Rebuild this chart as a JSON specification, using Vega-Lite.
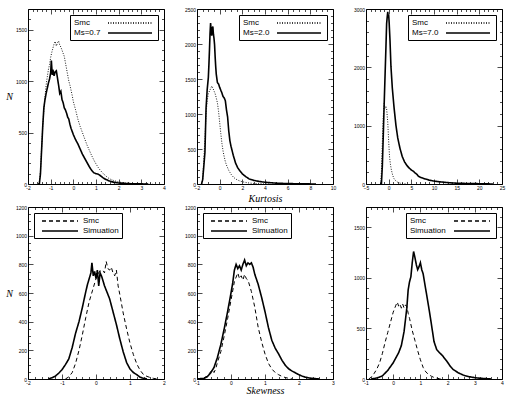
{
"$schema": "https://vega.github.io/schema/vega-lite/v6.json",
"background": "white",
"padding": {"left": 5, "top": 6, "right": 5, "bottom": 0},
"columns": 3,
"spacing": {"row": 23, "column": 33},
"bounds": "flush",
"resolve": {"scale": {"strokeDash": "independent"}, "legend": {"strokeDash": "independent"}},
"datasets": {
"p1": [
{"s":"Smc","x":-1.55,"y":0},{"s":"Smc","x":-1.5,"y":20},{"s":"Smc","x":-1.45,"y":120},{"s":"Smc","x":-1.4,"y":350},{"s":"Smc","x":-1.35,"y":560},{"s":"Smc","x":-1.3,"y":720},{"s":"Smc","x":-1.25,"y":850},{"s":"Smc","x":-1.2,"y":960},{"s":"Smc","x":-1.15,"y":1040},{"s":"Smc","x":-1.1,"y":1110},{"s":"Smc","x":-1.05,"y":1160},{"s":"Smc","x":-1.0,"y":1230},{"s":"Smc","x":-0.95,"y":1280},{"s":"Smc","x":-0.9,"y":1320},{"s":"Smc","x":-0.85,"y":1360},{"s":"Smc","x":-0.8,"y":1385},{"s":"Smc","x":-0.75,"y":1340},{"s":"Smc","x":-0.7,"y":1370},{"s":"Smc","x":-0.65,"y":1390},{"s":"Smc","x":-0.6,"y":1350},{"s":"Smc","x":-0.55,"y":1330},{"s":"Smc","x":-0.5,"y":1300},{"s":"Smc","x":-0.45,"y":1270},{"s":"Smc","x":-0.4,"y":1240},{"s":"Smc","x":-0.35,"y":1180},{"s":"Smc","x":-0.3,"y":1120},{"s":"Smc","x":-0.25,"y":1060},{"s":"Smc","x":-0.2,"y":1000},{"s":"Smc","x":-0.15,"y":960},{"s":"Smc","x":-0.1,"y":910},{"s":"Smc","x":-0.05,"y":860},{"s":"Smc","x":0.0,"y":800},{"s":"Smc","x":0.1,"y":720},{"s":"Smc","x":0.2,"y":630},{"s":"Smc","x":0.3,"y":560},{"s":"Smc","x":0.4,"y":500},{"s":"Smc","x":0.5,"y":440},{"s":"Smc","x":0.6,"y":380},{"s":"Smc","x":0.7,"y":330},{"s":"Smc","x":0.8,"y":280},{"s":"Smc","x":0.9,"y":235},{"s":"Smc","x":1.0,"y":195},{"s":"Smc","x":1.1,"y":160},{"s":"Smc","x":1.2,"y":130},{"s":"Smc","x":1.3,"y":105},{"s":"Smc","x":1.4,"y":85},{"s":"Smc","x":1.5,"y":65},{"s":"Smc","x":1.6,"y":50},{"s":"Smc","x":1.8,"y":32},{"s":"Smc","x":2.0,"y":20},{"s":"Smc","x":2.2,"y":12},{"s":"Smc","x":2.5,"y":6},{"s":"Smc","x":2.8,"y":3},{"s":"Smc","x":3.1,"y":1},{"s":"Smc","x":3.5,"y":0},
{"s":"Ms=0.7","x":-1.5,"y":0},{"s":"Ms=0.7","x":-1.45,"y":100},{"s":"Ms=0.7","x":-1.4,"y":330},{"s":"Ms=0.7","x":-1.35,"y":560},{"s":"Ms=0.7","x":-1.3,"y":740},{"s":"Ms=0.7","x":-1.25,"y":820},{"s":"Ms=0.7","x":-1.2,"y":880},{"s":"Ms=0.7","x":-1.15,"y":930},{"s":"Ms=0.7","x":-1.1,"y":980},{"s":"Ms=0.7","x":-1.05,"y":1020},{"s":"Ms=0.7","x":-1.0,"y":1080},{"s":"Ms=0.7","x":-0.97,"y":1200},{"s":"Ms=0.7","x":-0.93,"y":1060},{"s":"Ms=0.7","x":-0.9,"y":1110},{"s":"Ms=0.7","x":-0.85,"y":1050},{"s":"Ms=0.7","x":-0.8,"y":1090},{"s":"Ms=0.7","x":-0.75,"y":1100},{"s":"Ms=0.7","x":-0.7,"y":1030},{"s":"Ms=0.7","x":-0.65,"y":960},{"s":"Ms=0.7","x":-0.6,"y":880},{"s":"Ms=0.7","x":-0.55,"y":900},{"s":"Ms=0.7","x":-0.5,"y":820},{"s":"Ms=0.7","x":-0.45,"y":790},{"s":"Ms=0.7","x":-0.4,"y":740},{"s":"Ms=0.7","x":-0.35,"y":720},{"s":"Ms=0.7","x":-0.3,"y":690},{"s":"Ms=0.7","x":-0.25,"y":650},{"s":"Ms=0.7","x":-0.2,"y":630},{"s":"Ms=0.7","x":-0.15,"y":580},{"s":"Ms=0.7","x":-0.1,"y":540},{"s":"Ms=0.7","x":-0.05,"y":510},{"s":"Ms=0.7","x":0.0,"y":480},{"s":"Ms=0.7","x":0.1,"y":430},{"s":"Ms=0.7","x":0.2,"y":390},{"s":"Ms=0.7","x":0.3,"y":340},{"s":"Ms=0.7","x":0.4,"y":290},{"s":"Ms=0.7","x":0.5,"y":250},{"s":"Ms=0.7","x":0.6,"y":210},{"s":"Ms=0.7","x":0.7,"y":170},{"s":"Ms=0.7","x":0.8,"y":135},{"s":"Ms=0.7","x":0.9,"y":110},{"s":"Ms=0.7","x":1.0,"y":100},{"s":"Ms=0.7","x":1.1,"y":95},{"s":"Ms=0.7","x":1.2,"y":80},{"s":"Ms=0.7","x":1.3,"y":62},{"s":"Ms=0.7","x":1.4,"y":48},{"s":"Ms=0.7","x":1.5,"y":38},{"s":"Ms=0.7","x":1.6,"y":28},{"s":"Ms=0.7","x":1.8,"y":16},{"s":"Ms=0.7","x":2.0,"y":10},{"s":"Ms=0.7","x":2.3,"y":5},{"s":"Ms=0.7","x":2.6,"y":2},{"s":"Ms=0.7","x":3.0,"y":1},{"s":"Ms=0.7","x":3.3,"y":0}
],
"p2": [
{"s":"Smc","x":-1.6,"y":0},{"s":"Smc","x":-1.5,"y":60},{"s":"Smc","x":-1.4,"y":350},{"s":"Smc","x":-1.3,"y":650},{"s":"Smc","x":-1.2,"y":1000},{"s":"Smc","x":-1.1,"y":1190},{"s":"Smc","x":-1.0,"y":1290},{"s":"Smc","x":-0.9,"y":1330},{"s":"Smc","x":-0.8,"y":1360},{"s":"Smc","x":-0.7,"y":1400},{"s":"Smc","x":-0.6,"y":1370},{"s":"Smc","x":-0.5,"y":1330},{"s":"Smc","x":-0.4,"y":1290},{"s":"Smc","x":-0.3,"y":1230},{"s":"Smc","x":-0.2,"y":1160},{"s":"Smc","x":-0.1,"y":1040},{"s":"Smc","x":0.0,"y":880},{"s":"Smc","x":0.1,"y":720},{"s":"Smc","x":0.2,"y":580},{"s":"Smc","x":0.3,"y":470},{"s":"Smc","x":0.4,"y":390},{"s":"Smc","x":0.5,"y":320},{"s":"Smc","x":0.6,"y":270},{"s":"Smc","x":0.8,"y":195},{"s":"Smc","x":1.0,"y":140},{"s":"Smc","x":1.2,"y":100},{"s":"Smc","x":1.4,"y":72},{"s":"Smc","x":1.7,"y":48},{"s":"Smc","x":2.0,"y":32},{"s":"Smc","x":2.5,"y":16},{"s":"Smc","x":3.0,"y":8},{"s":"Smc","x":3.5,"y":4},{"s":"Smc","x":4.0,"y":1},{"s":"Smc","x":4.5,"y":0},
{"s":"Ms=2.0","x":-1.6,"y":0},{"s":"Ms=2.0","x":-1.5,"y":60},{"s":"Ms=2.0","x":-1.4,"y":250},{"s":"Ms=2.0","x":-1.3,"y":450},{"s":"Ms=2.0","x":-1.2,"y":1090},{"s":"Ms=2.0","x":-1.1,"y":1350},{"s":"Ms=2.0","x":-1.0,"y":1520},{"s":"Ms=2.0","x":-0.95,"y":1700},{"s":"Ms=2.0","x":-0.9,"y":1910},{"s":"Ms=2.0","x":-0.85,"y":2150},{"s":"Ms=2.0","x":-0.8,"y":2300},{"s":"Ms=2.0","x":-0.75,"y":2180},{"s":"Ms=2.0","x":-0.7,"y":2120},{"s":"Ms=2.0","x":-0.65,"y":2230},{"s":"Ms=2.0","x":-0.6,"y":2250},{"s":"Ms=2.0","x":-0.55,"y":2140},{"s":"Ms=2.0","x":-0.5,"y":2080},{"s":"Ms=2.0","x":-0.45,"y":1990},{"s":"Ms=2.0","x":-0.4,"y":1820},{"s":"Ms=2.0","x":-0.35,"y":1680},{"s":"Ms=2.0","x":-0.3,"y":1570},{"s":"Ms=2.0","x":-0.2,"y":1450},{"s":"Ms=2.0","x":-0.1,"y":1430},{"s":"Ms=2.0","x":0.0,"y":1380},{"s":"Ms=2.0","x":0.1,"y":1340},{"s":"Ms=2.0","x":0.2,"y":1300},{"s":"Ms=2.0","x":0.3,"y":1250},{"s":"Ms=2.0","x":0.4,"y":1230},{"s":"Ms=2.0","x":0.5,"y":1190},{"s":"Ms=2.0","x":0.6,"y":1060},{"s":"Ms=2.0","x":0.7,"y":960},{"s":"Ms=2.0","x":0.8,"y":760},{"s":"Ms=2.0","x":0.9,"y":620},{"s":"Ms=2.0","x":1.0,"y":540},{"s":"Ms=2.0","x":1.2,"y":410},{"s":"Ms=2.0","x":1.4,"y":300},{"s":"Ms=2.0","x":1.6,"y":230},{"s":"Ms=2.0","x":1.8,"y":185},{"s":"Ms=2.0","x":2.0,"y":145},{"s":"Ms=2.0","x":2.3,"y":105},{"s":"Ms=2.0","x":2.6,"y":73},{"s":"Ms=2.0","x":3.0,"y":52},{"s":"Ms=2.0","x":3.5,"y":36},{"s":"Ms=2.0","x":4.0,"y":25},{"s":"Ms=2.0","x":4.5,"y":18},{"s":"Ms=2.0","x":5.0,"y":12},{"s":"Ms=2.0","x":6.0,"y":6},{"s":"Ms=2.0","x":7.0,"y":3},{"s":"Ms=2.0","x":8.0,"y":1},{"s":"Ms=2.0","x":8.5,"y":0}
],
"p3": [
{"s":"Smc","x":-1.8,"y":0},{"s":"Smc","x":-1.6,"y":200},{"s":"Smc","x":-1.4,"y":700},{"s":"Smc","x":-1.2,"y":1150},{"s":"Smc","x":-1.0,"y":1380},{"s":"Smc","x":-0.8,"y":1300},{"s":"Smc","x":-0.6,"y":1330},{"s":"Smc","x":-0.45,"y":1290},{"s":"Smc","x":-0.3,"y":1150},{"s":"Smc","x":-0.2,"y":1060},{"s":"Smc","x":0.0,"y":730},{"s":"Smc","x":0.2,"y":460},{"s":"Smc","x":0.4,"y":330},{"s":"Smc","x":0.6,"y":240},{"s":"Smc","x":0.9,"y":145},{"s":"Smc","x":1.2,"y":90},{"s":"Smc","x":1.5,"y":60},{"s":"Smc","x":2.0,"y":30},{"s":"Smc","x":2.5,"y":15},{"s":"Smc","x":3.0,"y":7},{"s":"Smc","x":3.5,"y":3},{"s":"Smc","x":4.0,"y":0},
{"s":"Ms=7.0","x":-1.6,"y":0},{"s":"Ms=7.0","x":-1.4,"y":300},{"s":"Ms=7.0","x":-1.2,"y":800},{"s":"Ms=7.0","x":-1.0,"y":1350},{"s":"Ms=7.0","x":-0.8,"y":1850},{"s":"Ms=7.0","x":-0.6,"y":2350},{"s":"Ms=7.0","x":-0.45,"y":2750},{"s":"Ms=7.0","x":-0.3,"y":2880},{"s":"Ms=7.0","x":-0.2,"y":2950},{"s":"Ms=7.0","x":-0.1,"y":2870},{"s":"Ms=7.0","x":0.0,"y":2900},{"s":"Ms=7.0","x":0.1,"y":2780},{"s":"Ms=7.0","x":0.3,"y":2450},{"s":"Ms=7.0","x":0.5,"y":2020},{"s":"Ms=7.0","x":0.8,"y":1650},{"s":"Ms=7.0","x":1.2,"y":1300},{"s":"Ms=7.0","x":1.6,"y":1010},{"s":"Ms=7.0","x":2.0,"y":790},{"s":"Ms=7.0","x":2.5,"y":610},{"s":"Ms=7.0","x":3.0,"y":470},{"s":"Ms=7.0","x":3.5,"y":380},{"s":"Ms=7.0","x":4.0,"y":320},{"s":"Ms=7.0","x":4.5,"y":275},{"s":"Ms=7.0","x":5.0,"y":240},{"s":"Ms=7.0","x":5.5,"y":215},{"s":"Ms=7.0","x":5.8,"y":190},{"s":"Ms=7.0","x":6.0,"y":180},{"s":"Ms=7.0","x":6.3,"y":160},{"s":"Ms=7.0","x":6.6,"y":130},{"s":"Ms=7.0","x":7.0,"y":115},{"s":"Ms=7.0","x":8.0,"y":88},{"s":"Ms=7.0","x":9.0,"y":65},{"s":"Ms=7.0","x":10.0,"y":50},{"s":"Ms=7.0","x":11.0,"y":40},{"s":"Ms=7.0","x":12.0,"y":32},{"s":"Ms=7.0","x":13.0,"y":24},{"s":"Ms=7.0","x":14.0,"y":18},{"s":"Ms=7.0","x":15.0,"y":14},{"s":"Ms=7.0","x":16.0,"y":12},{"s":"Ms=7.0","x":17.0,"y":9},{"s":"Ms=7.0","x":18.0,"y":8},{"s":"Ms=7.0","x":20.0,"y":5},{"s":"Ms=7.0","x":22.0,"y":2},{"s":"Ms=7.0","x":23.0,"y":0}
],
"p4": [
{"s":"Smc","x":-0.9,"y":0},{"s":"Smc","x":-0.8,"y":15},{"s":"Smc","x":-0.7,"y":45},{"s":"Smc","x":-0.6,"y":110},{"s":"Smc","x":-0.5,"y":200},{"s":"Smc","x":-0.4,"y":310},{"s":"Smc","x":-0.3,"y":430},{"s":"Smc","x":-0.2,"y":540},{"s":"Smc","x":-0.1,"y":620},{"s":"Smc","x":0.0,"y":700},{"s":"Smc","x":0.1,"y":750},{"s":"Smc","x":0.2,"y":760},{"s":"Smc","x":0.25,"y":740},{"s":"Smc","x":0.3,"y":820},{"s":"Smc","x":0.35,"y":770},{"s":"Smc","x":0.4,"y":760},{"s":"Smc","x":0.45,"y":780},{"s":"Smc","x":0.5,"y":740},{"s":"Smc","x":0.55,"y":720},{"s":"Smc","x":0.6,"y":760},{"s":"Smc","x":0.65,"y":650},{"s":"Smc","x":0.7,"y":590},{"s":"Smc","x":0.8,"y":460},{"s":"Smc","x":0.9,"y":350},{"s":"Smc","x":1.0,"y":250},{"s":"Smc","x":1.1,"y":170},{"s":"Smc","x":1.2,"y":105},{"s":"Smc","x":1.3,"y":60},{"s":"Smc","x":1.4,"y":30},{"s":"Smc","x":1.5,"y":18},{"s":"Smc","x":1.6,"y":10},{"s":"Smc","x":1.7,"y":4},{"s":"Smc","x":1.8,"y":0},
{"s":"Simuation","x":-1.4,"y":0},{"s":"Simuation","x":-1.3,"y":8},{"s":"Simuation","x":-1.2,"y":19},{"s":"Simuation","x":-1.1,"y":40},{"s":"Simuation","x":-1.0,"y":65},{"s":"Simuation","x":-0.9,"y":100},{"s":"Simuation","x":-0.8,"y":140},{"s":"Simuation","x":-0.7,"y":220},{"s":"Simuation","x":-0.6,"y":320},{"s":"Simuation","x":-0.5,"y":400},{"s":"Simuation","x":-0.4,"y":500},{"s":"Simuation","x":-0.3,"y":610},{"s":"Simuation","x":-0.25,"y":660},{"s":"Simuation","x":-0.2,"y":700},{"s":"Simuation","x":-0.15,"y":740},{"s":"Simuation","x":-0.12,"y":810},{"s":"Simuation","x":-0.08,"y":720},{"s":"Simuation","x":-0.04,"y":750},{"s":"Simuation","x":0.0,"y":700},{"s":"Simuation","x":0.04,"y":760},{"s":"Simuation","x":0.08,"y":650},{"s":"Simuation","x":0.12,"y":740},{"s":"Simuation","x":0.16,"y":720},{"s":"Simuation","x":0.2,"y":690},{"s":"Simuation","x":0.25,"y":650},{"s":"Simuation","x":0.3,"y":620},{"s":"Simuation","x":0.35,"y":590},{"s":"Simuation","x":0.4,"y":560},{"s":"Simuation","x":0.5,"y":470},{"s":"Simuation","x":0.6,"y":380},{"s":"Simuation","x":0.7,"y":280},{"s":"Simuation","x":0.8,"y":190},{"s":"Simuation","x":0.9,"y":115},{"s":"Simuation","x":1.0,"y":70},{"s":"Simuation","x":1.1,"y":45},{"s":"Simuation","x":1.2,"y":30},{"s":"Simuation","x":1.3,"y":12},{"s":"Simuation","x":1.4,"y":5},{"s":"Simuation","x":1.5,"y":0}
],
"p5": [
{"s":"Smc","x":-1.0,"y":0},{"s":"Smc","x":-0.8,"y":8},{"s":"Smc","x":-0.7,"y":20},{"s":"Smc","x":-0.6,"y":50},{"s":"Smc","x":-0.55,"y":65},{"s":"Smc","x":-0.5,"y":45},{"s":"Smc","x":-0.45,"y":70},{"s":"Smc","x":-0.4,"y":115},{"s":"Smc","x":-0.3,"y":190},{"s":"Smc","x":-0.2,"y":300},{"s":"Smc","x":-0.1,"y":420},{"s":"Smc","x":0.0,"y":550},{"s":"Smc","x":0.1,"y":680},{"s":"Smc","x":0.2,"y":740},{"s":"Smc","x":0.25,"y":700},{"s":"Smc","x":0.3,"y":720},{"s":"Smc","x":0.35,"y":690},{"s":"Smc","x":0.4,"y":730},{"s":"Smc","x":0.45,"y":700},{"s":"Smc","x":0.5,"y":690},{"s":"Smc","x":0.6,"y":610},{"s":"Smc","x":0.7,"y":500},{"s":"Smc","x":0.8,"y":360},{"s":"Smc","x":0.9,"y":260},{"s":"Smc","x":1.0,"y":175},{"s":"Smc","x":1.1,"y":110},{"s":"Smc","x":1.2,"y":70},{"s":"Smc","x":1.3,"y":45},{"s":"Smc","x":1.4,"y":30},{"s":"Smc","x":1.5,"y":18},{"s":"Smc","x":1.6,"y":10},{"s":"Smc","x":1.7,"y":5},{"s":"Smc","x":1.8,"y":0},
{"s":"Simuation","x":-1.0,"y":0},{"s":"Simuation","x":-0.8,"y":4},{"s":"Simuation","x":-0.7,"y":15},{"s":"Simuation","x":-0.6,"y":42},{"s":"Simuation","x":-0.5,"y":80},{"s":"Simuation","x":-0.4,"y":150},{"s":"Simuation","x":-0.3,"y":240},{"s":"Simuation","x":-0.2,"y":350},{"s":"Simuation","x":-0.1,"y":470},{"s":"Simuation","x":0.0,"y":600},{"s":"Simuation","x":0.05,"y":670},{"s":"Simuation","x":0.1,"y":760},{"s":"Simuation","x":0.15,"y":800},{"s":"Simuation","x":0.2,"y":770},{"s":"Simuation","x":0.25,"y":790},{"s":"Simuation","x":0.3,"y":760},{"s":"Simuation","x":0.35,"y":800},{"s":"Simuation","x":0.4,"y":830},{"s":"Simuation","x":0.45,"y":790},{"s":"Simuation","x":0.5,"y":810},{"s":"Simuation","x":0.55,"y":800},{"s":"Simuation","x":0.6,"y":810},{"s":"Simuation","x":0.65,"y":780},{"s":"Simuation","x":0.7,"y":730},{"s":"Simuation","x":0.8,"y":660},{"s":"Simuation","x":0.9,"y":570},{"s":"Simuation","x":1.0,"y":470},{"s":"Simuation","x":1.1,"y":360},{"s":"Simuation","x":1.2,"y":270},{"s":"Simuation","x":1.3,"y":215},{"s":"Simuation","x":1.4,"y":175},{"s":"Simuation","x":1.5,"y":130},{"s":"Simuation","x":1.6,"y":95},{"s":"Simuation","x":1.7,"y":70},{"s":"Simuation","x":1.8,"y":55},{"s":"Simuation","x":1.9,"y":42},{"s":"Simuation","x":2.0,"y":30},{"s":"Simuation","x":2.1,"y":19},{"s":"Simuation","x":2.2,"y":12},{"s":"Simuation","x":2.3,"y":7},{"s":"Simuation","x":2.5,"y":2},{"s":"Simuation","x":2.6,"y":0}
],
"p6": [
{"s":"Smc","x":-0.9,"y":0},{"s":"Smc","x":-0.8,"y":20},{"s":"Smc","x":-0.7,"y":55},{"s":"Smc","x":-0.6,"y":100},{"s":"Smc","x":-0.5,"y":160},{"s":"Smc","x":-0.4,"y":250},{"s":"Smc","x":-0.3,"y":360},{"s":"Smc","x":-0.2,"y":460},{"s":"Smc","x":-0.1,"y":560},{"s":"Smc","x":0.0,"y":660},{"s":"Smc","x":0.1,"y":730},{"s":"Smc","x":0.15,"y":760},{"s":"Smc","x":0.2,"y":720},{"s":"Smc","x":0.25,"y":740},{"s":"Smc","x":0.3,"y":700},{"s":"Smc","x":0.35,"y":740},{"s":"Smc","x":0.4,"y":700},{"s":"Smc","x":0.45,"y":730},{"s":"Smc","x":0.5,"y":720},{"s":"Smc","x":0.55,"y":650},{"s":"Smc","x":0.6,"y":600},{"s":"Smc","x":0.7,"y":480},{"s":"Smc","x":0.8,"y":380},{"s":"Smc","x":0.9,"y":280},{"s":"Smc","x":1.0,"y":190},{"s":"Smc","x":1.1,"y":115},{"s":"Smc","x":1.2,"y":70},{"s":"Smc","x":1.3,"y":45},{"s":"Smc","x":1.4,"y":28},{"s":"Smc","x":1.5,"y":15},{"s":"Smc","x":1.6,"y":8},{"s":"Smc","x":1.7,"y":3},{"s":"Smc","x":1.8,"y":0},
{"s":"Simuation","x":-0.8,"y":0},{"s":"Simuation","x":-0.6,"y":10},{"s":"Simuation","x":-0.4,"y":30},{"s":"Simuation","x":-0.2,"y":85},{"s":"Simuation","x":0.0,"y":160},{"s":"Simuation","x":0.1,"y":210},{"s":"Simuation","x":0.2,"y":260},{"s":"Simuation","x":0.3,"y":330},{"s":"Simuation","x":0.4,"y":470},{"s":"Simuation","x":0.5,"y":700},{"s":"Simuation","x":0.55,"y":880},{"s":"Simuation","x":0.6,"y":960},{"s":"Simuation","x":0.65,"y":1010},{"s":"Simuation","x":0.7,"y":1150},{"s":"Simuation","x":0.75,"y":1260},{"s":"Simuation","x":0.8,"y":1200},{"s":"Simuation","x":0.85,"y":1130},{"s":"Simuation","x":0.9,"y":1080},{"s":"Simuation","x":0.95,"y":1110},{"s":"Simuation","x":1.0,"y":1150},{"s":"Simuation","x":1.05,"y":1080},{"s":"Simuation","x":1.1,"y":1040},{"s":"Simuation","x":1.15,"y":960},{"s":"Simuation","x":1.2,"y":880},{"s":"Simuation","x":1.3,"y":720},{"s":"Simuation","x":1.4,"y":550},{"s":"Simuation","x":1.5,"y":370},{"s":"Simuation","x":1.6,"y":290},{"s":"Simuation","x":1.7,"y":260},{"s":"Simuation","x":1.8,"y":235},{"s":"Simuation","x":1.9,"y":200},{"s":"Simuation","x":2.0,"y":165},{"s":"Simuation","x":2.1,"y":125},{"s":"Simuation","x":2.2,"y":95},{"s":"Simuation","x":2.4,"y":60},{"s":"Simuation","x":2.6,"y":36},{"s":"Simuation","x":2.8,"y":22},{"s":"Simuation","x":3.0,"y":13},{"s":"Simuation","x":3.2,"y":7},{"s":"Simuation","x":3.5,"y":2},{"s":"Simuation","x":3.6,"y":0}
]
},
"concat": [
{
"width": 136, "height": 175,
"data": {"name": "p1"},
"layer": [
{"transform": [{"filter": "datum.s == 'Smc'"}],
 "mark": {"type": "line", "strokeWidth": 0.9},
 "encoding": {
  "x": {"field": "x", "type": "quantitative", "scale": {"domain": [-2, 4], "nice": false, "zero": false},
        "axis": {"orient": "bottom", "title": null, "labelOverlap": false, "values": [-2,-1.8,-1.6,-1.4,-1.2,-1,-0.8,-0.6,-0.4,-0.2,0,0.2,0.4,0.6,0.8,1,1.2,1.4,1.6,1.8,2,2.2,2.4,2.6,2.8,3,3.2,3.4,3.6,3.8,4],
                 "labelExpr": "abs(datum.value - round(datum.value)) < 0.001 ? '' + round(datum.value) : ''",
                 "tickSize": {"condition": {"test": "abs(datum.value - round(datum.value)) < 0.001", "value": -5}, "value": -2.5}}},
  "y": {"field": "y", "type": "quantitative", "scale": {"domain": [0, 1700], "nice": false},
        "axis": {"orient": "left", "title": "N", "titleAngle": 0, "titleAlign": "right", "titleBaseline": "middle", "titlePadding": 3, "titleFontSize": 10, "format": "d", "labelOverlap": false,
                 "values": [0,100,200,300,400,500,600,700,800,900,1000,1100,1200,1300,1400,1500,1600,1700],
                 "labelExpr": "datum.value % 500 == 0 ? datum.label : ''",
                 "tickSize": {"condition": {"test": "datum.value % 500 == 0", "value": -5}, "value": -2.5}}},
  "strokeDash": {"field": "s", "type": "nominal", "scale": {"domain": ["Smc", "Ms=0.7"], "range": [[1, 1.5], [1, 0]]},
    "legend": {"title": null, "orient": "top-right", "symbolType": "M7.5,0H18.5", "symbolSize": 64, "labelAlign": "left", "labelOffset": -9,
               "encode": {"symbols": {"strokeWidth": {"condition": {"test": "datum.value == 'Smc'", "value": 0.9}, "value": 1.5}, "stroke": {"value": "black"}}}}}
 }},
{"transform": [{"filter": "datum.s != 'Smc'"}],
 "mark": {"type": "line", "strokeWidth": 1.6},
 "encoding": {
  "x": {"field": "x", "type": "quantitative", "scale": {"domain": [-2, 4], "nice": false, "zero": false},
        "axis": {"orient": "top", "title": null, "labels": false, "values": [-2,-1.8,-1.6,-1.4,-1.2,-1,-0.8,-0.6,-0.4,-0.2,0,0.2,0.4,0.6,0.8,1,1.2,1.4,1.6,1.8,2,2.2,2.4,2.6,2.8,3,3.2,3.4,3.6,3.8,4],
                 "tickSize": {"condition": {"test": "abs(datum.value - round(datum.value)) < 0.001", "value": -5}, "value": -2.5}}},
  "y": {"field": "y", "type": "quantitative", "scale": {"domain": [0, 1700], "nice": false},
        "axis": {"orient": "right", "title": null, "labels": false,
                 "values": [0,100,200,300,400,500,600,700,800,900,1000,1100,1200,1300,1400,1500,1600,1700],
                 "tickSize": {"condition": {"test": "datum.value % 500 == 0", "value": -5}, "value": -2.5}}},
  "strokeDash": {"field": "s", "type": "nominal", "scale": {"domain": ["Smc", "Ms=0.7"], "range": [[1, 1.5], [1, 0]]}}
 }}
],
"resolve": {"axis": {"x": "independent", "y": "independent"}}
},
{
"width": 136, "height": 175,
"data": {"name": "p2"},
"layer": [
{"transform": [{"filter": "datum.s == 'Smc'"}],
 "mark": {"type": "line", "strokeWidth": 0.9},
 "encoding": {
  "x": {"field": "x", "type": "quantitative", "scale": {"domain": [-2, 10], "nice": false, "zero": false},
        "axis": {"orient": "bottom", "title": "Kurtosis", "titleY": 9, "titleBaseline": "top", "format": "d", "labelOverlap": false, "values": [-2,-1.5,-1,-0.5,0,0.5,1,1.5,2,2.5,3,3.5,4,4.5,5,5.5,6,6.5,7,7.5,8,8.5,9,9.5,10],
                 "labelExpr": "datum.value % 2 == 0 ? datum.label : ''",
                 "tickSize": {"condition": {"test": "datum.value % 2 == 0", "value": -5}, "value": -2.5}}},
  "y": {"field": "y", "type": "quantitative", "scale": {"domain": [0, 2500], "nice": false},
        "axis": {"orient": "left", "title": null, "format": "d", "labelOverlap": false,
                 "values": [0,100,200,300,400,500,600,700,800,900,1000,1100,1200,1300,1400,1500,1600,1700,1800,1900,2000,2100,2200,2300,2400,2500],
                 "labelExpr": "datum.value % 500 == 0 ? datum.label : ''",
                 "tickSize": {"condition": {"test": "datum.value % 500 == 0", "value": -5}, "value": -2.5}}},
  "strokeDash": {"field": "s", "type": "nominal", "scale": {"domain": ["Smc", "Ms=2.0"], "range": [[1, 1.5], [1, 0]]},
    "legend": {"title": null, "orient": "top-right", "symbolType": "M7.5,0H18.5", "symbolSize": 64, "labelAlign": "left", "labelOffset": -9,
               "encode": {"symbols": {"strokeWidth": {"condition": {"test": "datum.value == 'Smc'", "value": 0.9}, "value": 1.5}, "stroke": {"value": "black"}}}}}
 }},
{"transform": [{"filter": "datum.s != 'Smc'"}],
 "mark": {"type": "line", "strokeWidth": 1.6},
 "encoding": {
  "x": {"field": "x", "type": "quantitative", "scale": {"domain": [-2, 10], "nice": false, "zero": false},
        "axis": {"orient": "top", "title": null, "labels": false, "values": [-2,-1.5,-1,-0.5,0,0.5,1,1.5,2,2.5,3,3.5,4,4.5,5,5.5,6,6.5,7,7.5,8,8.5,9,9.5,10],
                 "tickSize": {"condition": {"test": "datum.value % 2 == 0", "value": -5}, "value": -2.5}}},
  "y": {"field": "y", "type": "quantitative", "scale": {"domain": [0, 2500], "nice": false},
        "axis": {"orient": "right", "title": null, "labels": false,
                 "values": [0,100,200,300,400,500,600,700,800,900,1000,1100,1200,1300,1400,1500,1600,1700,1800,1900,2000,2100,2200,2300,2400,2500],
                 "tickSize": {"condition": {"test": "datum.value % 500 == 0", "value": -5}, "value": -2.5}}},
  "strokeDash": {"field": "s", "type": "nominal", "scale": {"domain": ["Smc", "Ms=2.0"], "range": [[1, 1.5], [1, 0]]}}
 }}
],
"resolve": {"axis": {"x": "independent", "y": "independent"}}
},
{
"width": 136, "height": 175,
"data": {"name": "p3"},
"layer": [
{"transform": [{"filter": "datum.s == 'Smc'"}],
 "mark": {"type": "line", "strokeWidth": 0.9},
 "encoding": {
  "x": {"field": "x", "type": "quantitative", "scale": {"domain": [-5, 25], "nice": false, "zero": false},
        "axis": {"orient": "bottom", "title": null, "format": "d", "labelOverlap": false, "values": [-5,-4,-3,-2,-1,0,1,2,3,4,5,6,7,8,9,10,11,12,13,14,15,16,17,18,19,20,21,22,23,24,25],
                 "labelExpr": "datum.value % 5 == 0 ? datum.label : ''",
                 "tickSize": {"condition": {"test": "datum.value % 5 == 0", "value": -5}, "value": -2.5}}},
  "y": {"field": "y", "type": "quantitative", "scale": {"domain": [0, 3000], "nice": false},
        "axis": {"orient": "left", "title": null, "format": "d", "labelOverlap": false,
                 "values": [0,200,400,600,800,1000,1200,1400,1600,1800,2000,2200,2400,2600,2800,3000],
                 "labelExpr": "datum.value % 1000 == 0 ? datum.label : ''",
                 "tickSize": {"condition": {"test": "datum.value % 1000 == 0", "value": -5}, "value": -2.5}}},
  "strokeDash": {"field": "s", "type": "nominal", "scale": {"domain": ["Smc", "Ms=7.0"], "range": [[1, 1.5], [1, 0]]},
    "legend": {"title": null, "orient": "top-right", "symbolType": "M7.5,0H18.5", "symbolSize": 64, "labelAlign": "left", "labelOffset": -9,
               "encode": {"symbols": {"strokeWidth": {"condition": {"test": "datum.value == 'Smc'", "value": 0.9}, "value": 1.5}, "stroke": {"value": "black"}}}}}
 }},
{"transform": [{"filter": "datum.s != 'Smc'"}],
 "mark": {"type": "line", "strokeWidth": 1.6},
 "encoding": {
  "x": {"field": "x", "type": "quantitative", "scale": {"domain": [-5, 25], "nice": false, "zero": false},
        "axis": {"orient": "top", "title": null, "labels": false, "values": [-5,-4,-3,-2,-1,0,1,2,3,4,5,6,7,8,9,10,11,12,13,14,15,16,17,18,19,20,21,22,23,24,25],
                 "tickSize": {"condition": {"test": "datum.value % 5 == 0", "value": -5}, "value": -2.5}}},
  "y": {"field": "y", "type": "quantitative", "scale": {"domain": [0, 3000], "nice": false},
        "axis": {"orient": "right", "title": null, "labels": false,
                 "values": [0,200,400,600,800,1000,1200,1400,1600,1800,2000,2200,2400,2600,2800,3000],
                 "tickSize": {"condition": {"test": "datum.value % 1000 == 0", "value": -5}, "value": -2.5}}},
  "strokeDash": {"field": "s", "type": "nominal", "scale": {"domain": ["Smc", "Ms=7.0"], "range": [[1, 1.5], [1, 0]]}}
 }}
],
"resolve": {"axis": {"x": "independent", "y": "independent"}}
},
{
"width": 136, "height": 172,
"data": {"name": "p4"},
"layer": [
{"transform": [{"filter": "datum.s == 'Smc'"}],
 "mark": {"type": "line", "strokeWidth": 1},
 "encoding": {
  "x": {"field": "x", "type": "quantitative", "scale": {"domain": [-2, 2], "nice": false, "zero": false},
        "axis": {"orient": "bottom", "title": null, "labelOverlap": false, "labelPadding": 6, "values": [-2,-1.8,-1.6,-1.4,-1.2,-1,-0.8,-0.6,-0.4,-0.2,0,0.2,0.4,0.6,0.8,1,1.2,1.4,1.6,1.8,2],
                 "labelExpr": "abs(datum.value - round(datum.value)) < 0.001 ? '' + round(datum.value) : ''",
                 "tickSize": {"condition": {"test": "abs(datum.value - round(datum.value)) < 0.001", "value": -5}, "value": -2.5}}},
  "y": {"field": "y", "type": "quantitative", "scale": {"domain": [0, 1200], "nice": false},
        "axis": {"orient": "left", "title": "N", "titleAngle": 0, "titleAlign": "right", "titleBaseline": "middle", "titlePadding": 3, "titleFontSize": 10, "format": "d", "labelOverlap": false,
                 "values": [0,50,100,150,200,250,300,350,400,450,500,550,600,650,700,750,800,850,900,950,1000,1050,1100,1150,1200],
                 "labelExpr": "datum.value % 200 == 0 ? datum.label : ''",
                 "tickSize": {"condition": {"test": "datum.value % 200 == 0", "value": -5}, "value": -2.5}}},
  "strokeDash": {"field": "s", "type": "nominal", "scale": {"domain": ["Smc", "Simuation"], "range": [[4, 3], [1, 0]]},
    "legend": {"title": null, "orient": "top-left", "symbolType": "M0,0H9", "symbolSize": 64, "labelAlign": "left", "labelOffset": 36,
               "encode": {"symbols": {"strokeWidth": {"condition": {"test": "datum.value == 'Smc'", "value": 1}, "value": 1.5}, "stroke": {"value": "black"}}}}}
 }},
{"transform": [{"filter": "datum.s != 'Smc'"}],
 "mark": {"type": "line", "strokeWidth": 1.6},
 "encoding": {
  "x": {"field": "x", "type": "quantitative", "scale": {"domain": [-2, 2], "nice": false, "zero": false},
        "axis": {"orient": "top", "title": null, "labels": false, "values": [-2,-1.8,-1.6,-1.4,-1.2,-1,-0.8,-0.6,-0.4,-0.2,0,0.2,0.4,0.6,0.8,1,1.2,1.4,1.6,1.8,2],
                 "tickSize": {"condition": {"test": "abs(datum.value - round(datum.value)) < 0.001", "value": -5}, "value": -2.5}}},
  "y": {"field": "y", "type": "quantitative", "scale": {"domain": [0, 1200], "nice": false},
        "axis": {"orient": "right", "title": null, "labels": false,
                 "values": [0,50,100,150,200,250,300,350,400,450,500,550,600,650,700,750,800,850,900,950,1000,1050,1100,1150,1200],
                 "tickSize": {"condition": {"test": "datum.value % 200 == 0", "value": -5}, "value": -2.5}}},
  "strokeDash": {"field": "s", "type": "nominal", "scale": {"domain": ["Smc", "Simuation"], "range": [[4, 3], [1, 0]]}}
 }}
],
"resolve": {"axis": {"x": "independent", "y": "independent"}}
},
{
"width": 136, "height": 172,
"data": {"name": "p5"},
"layer": [
{"transform": [{"filter": "datum.s == 'Smc'"}],
 "mark": {"type": "line", "strokeWidth": 1},
 "encoding": {
  "x": {"field": "x", "type": "quantitative", "scale": {"domain": [-1, 3], "nice": false, "zero": false},
        "axis": {"orient": "bottom", "title": "Skewness", "titleY": 6, "titleBaseline": "top", "labelOverlap": false, "labelPadding": 6, "values": [-1,-0.8,-0.6,-0.4,-0.2,0,0.2,0.4,0.6,0.8,1,1.2,1.4,1.6,1.8,2,2.2,2.4,2.6,2.8,3],
                 "labelExpr": "abs(datum.value - round(datum.value)) < 0.001 ? '' + round(datum.value) : ''",
                 "tickSize": {"condition": {"test": "abs(datum.value - round(datum.value)) < 0.001", "value": -5}, "value": -2.5}}},
  "y": {"field": "y", "type": "quantitative", "scale": {"domain": [0, 1200], "nice": false},
        "axis": {"orient": "left", "title": null, "format": "d", "labelOverlap": false,
                 "values": [0,50,100,150,200,250,300,350,400,450,500,550,600,650,700,750,800,850,900,950,1000,1050,1100,1150,1200],
                 "labelExpr": "datum.value % 200 == 0 ? datum.label : ''",
                 "tickSize": {"condition": {"test": "datum.value % 200 == 0", "value": -5}, "value": -2.5}}},
  "strokeDash": {"field": "s", "type": "nominal", "scale": {"domain": ["Smc", "Simuation"], "range": [[4, 3], [1, 0]]},
    "legend": {"title": null, "orient": "top-left", "symbolType": "M0,0H9", "symbolSize": 64, "labelAlign": "left", "labelOffset": 36,
               "encode": {"symbols": {"strokeWidth": {"condition": {"test": "datum.value == 'Smc'", "value": 1}, "value": 1.5}, "stroke": {"value": "black"}}}}}
 }},
{"transform": [{"filter": "datum.s != 'Smc'"}],
 "mark": {"type": "line", "strokeWidth": 1.6},
 "encoding": {
  "x": {"field": "x", "type": "quantitative", "scale": {"domain": [-1, 3], "nice": false, "zero": false},
        "axis": {"orient": "top", "title": null, "labels": false, "values": [-1,-0.8,-0.6,-0.4,-0.2,0,0.2,0.4,0.6,0.8,1,1.2,1.4,1.6,1.8,2,2.2,2.4,2.6,2.8,3],
                 "tickSize": {"condition": {"test": "abs(datum.value - round(datum.value)) < 0.001", "value": -5}, "value": -2.5}}},
  "y": {"field": "y", "type": "quantitative", "scale": {"domain": [0, 1200], "nice": false},
        "axis": {"orient": "right", "title": null, "labels": false,
                 "values": [0,50,100,150,200,250,300,350,400,450,500,550,600,650,700,750,800,850,900,950,1000,1050,1100,1150,1200],
                 "tickSize": {"condition": {"test": "datum.value % 200 == 0", "value": -5}, "value": -2.5}}},
  "strokeDash": {"field": "s", "type": "nominal", "scale": {"domain": ["Smc", "Simuation"], "range": [[4, 3], [1, 0]]}}
 }}
],
"resolve": {"axis": {"x": "independent", "y": "independent"}}
},
{
"width": 136, "height": 172,
"data": {"name": "p6"},
"layer": [
{"transform": [{"filter": "datum.s == 'Smc'"}],
 "mark": {"type": "line", "strokeWidth": 1},
 "encoding": {
  "x": {"field": "x", "type": "quantitative", "scale": {"domain": [-1, 4], "nice": false, "zero": false},
        "axis": {"orient": "bottom", "title": null, "labelOverlap": false, "labelPadding": 6, "values": [-1,-0.8,-0.6,-0.4,-0.2,0,0.2,0.4,0.6,0.8,1,1.2,1.4,1.6,1.8,2,2.2,2.4,2.6,2.8,3,3.2,3.4,3.6,3.8,4],
                 "labelExpr": "abs(datum.value - round(datum.value)) < 0.001 ? '' + round(datum.value) : ''",
                 "tickSize": {"condition": {"test": "abs(datum.value - round(datum.value)) < 0.001", "value": -5}, "value": -2.5}}},
  "y": {"field": "y", "type": "quantitative", "scale": {"domain": [0, 1700], "nice": false},
        "axis": {"orient": "left", "title": null, "format": "d", "labelOverlap": false,
                 "values": [0,100,200,300,400,500,600,700,800,900,1000,1100,1200,1300,1400,1500,1600,1700],
                 "labelExpr": "datum.value % 500 == 0 ? datum.label : ''",
                 "tickSize": {"condition": {"test": "datum.value % 500 == 0", "value": -5}, "value": -2.5}}},
  "strokeDash": {"field": "s", "type": "nominal", "scale": {"domain": ["Smc", "Simuation"], "range": [[4, 3], [1, 0]]},
    "legend": {"title": null, "orient": "top-right", "symbolType": "M10,0H19", "symbolSize": 64, "labelAlign": "left", "labelOffset": -9,
               "encode": {"symbols": {"strokeWidth": {"condition": {"test": "datum.value == 'Smc'", "value": 1}, "value": 1.5}, "stroke": {"value": "black"}}}}}
 }},
{"transform": [{"filter": "datum.s != 'Smc'"}],
 "mark": {"type": "line", "strokeWidth": 1.6},
 "encoding": {
  "x": {"field": "x", "type": "quantitative", "scale": {"domain": [-1, 4], "nice": false, "zero": false},
        "axis": {"orient": "top", "title": null, "labels": false, "values": [-1,-0.8,-0.6,-0.4,-0.2,0,0.2,0.4,0.6,0.8,1,1.2,1.4,1.6,1.8,2,2.2,2.4,2.6,2.8,3,3.2,3.4,3.6,3.8,4],
                 "tickSize": {"condition": {"test": "abs(datum.value - round(datum.value)) < 0.001", "value": -5}, "value": -2.5}}},
  "y": {"field": "y", "type": "quantitative", "scale": {"domain": [0, 1700], "nice": false},
        "axis": {"orient": "right", "title": null, "labels": false,
                 "values": [0,100,200,300,400,500,600,700,800,900,1000,1100,1200,1300,1400,1500,1600,1700],
                 "tickSize": {"condition": {"test": "datum.value % 500 == 0", "value": -5}, "value": -2.5}}},
  "strokeDash": {"field": "s", "type": "nominal", "scale": {"domain": ["Smc", "Simuation"], "range": [[4, 3], [1, 0]]}}
 }}
],
"resolve": {"axis": {"x": "independent", "y": "independent"}}
}
],
"config": {
 "view": {"stroke": "black", "strokeWidth": 1},
 "line": {"color": "black"},
 "axis": {"domain": false, "grid": false, "labelFont": "Liberation Sans", "labelFontSize": 5, "labelColor": "black", "labelPadding": 6.5, "tickColor": "black", "tickWidth": 0.7,
          "titleFont": "Liberation Serif", "titleFontStyle": "italic", "titleFontWeight": "normal", "titleFontSize": 10, "titleColor": "black", "labelOverlap": false, "labelFlush": false},
 "legend": {"labelFont": "Liberation Sans", "labelFontSize": 8, "labelColor": "black", "strokeColor": "black", "fillColor": "white", "padding": 3, "cornerRadius": 0, "rowPadding": 1, "offset": 6}
}
}
